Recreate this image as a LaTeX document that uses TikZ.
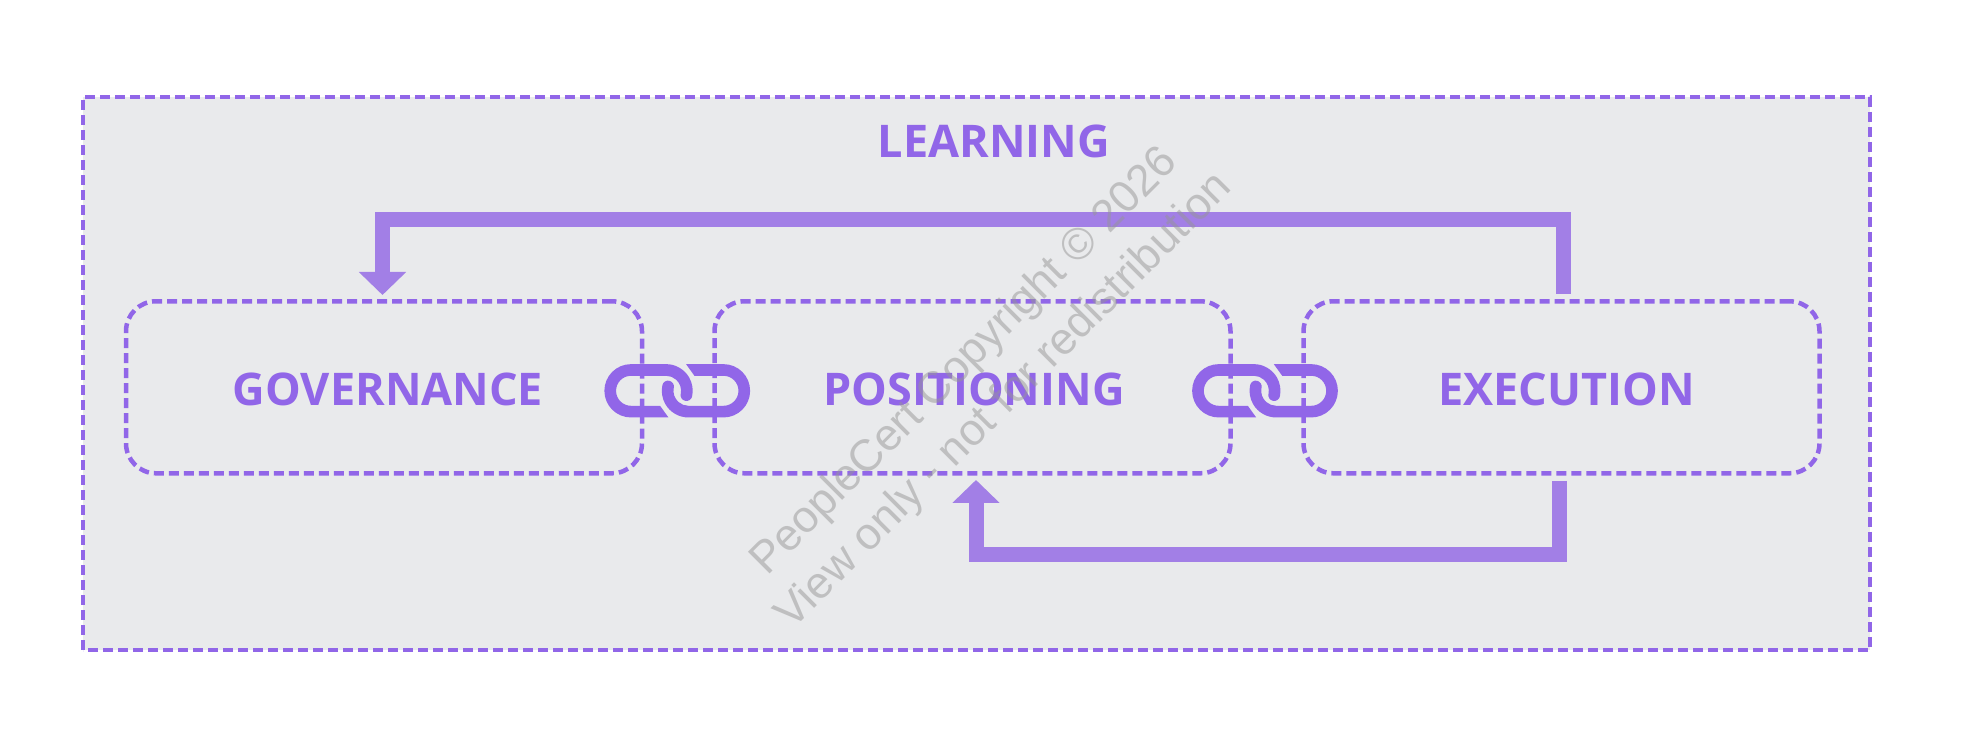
\documentclass[tikz,border=0pt]{standalone}
\usepackage{xcolor}
\usepackage{fontspec}
\setmainfont{Open Sans}
\newfontfamily\markfont{Liberation Sans}
\usetikzlibrary{arrows.meta,calc}
\definecolor{linkP}{RGB}{145,102,232}
\definecolor{flowP}{RGB}{162,127,230}
\definecolor{backG}{RGB}{233,234,236}
\definecolor{markG}{RGB}{150,150,150}

\begin{document}
\begin{tikzpicture}[
  x=1pt, y=1pt,
  outerbox/.style={draw=linkP, fill=backG, line width=4.5pt, dash pattern=on 10pt off 5pt},
  box/.style={draw=linkP, line width=4.5pt, dash pattern=on 10pt off 5pt, rounded corners=30pt,
    outer sep=0pt, minimum width=516pt, minimum height=172pt},
  boxtext/.style={font=\fontsize{45}{54}\selectfont\bfseries, text=linkP},
  flowend/.style={draw=flowP, line width=15pt, -{Triangle[width=46pt,length=23pt]}},
  stampnote/.style={font=\markfont\fontsize{44.6}{56}\selectfont, text=markG, opacity=0.5, rotate=45, align=center},
  chainlink/.pic={
    \foreach \ang in {0,180} {
      \fill[linkP, rotate=\ang] (-8.8,-26.67) -- (-46.2,-26.67)
        arc[start angle=270, end angle=90, radius=26.67] -- (-11.2,26.67)
        arc[start angle=90, end angle=-12, radius=26.67]
        arc[start angle=-12, end angle=-192, radius=5.83]
        arc[start angle=-12, end angle=90, radius=15] -- (-46.2,15)
        arc[start angle=90, end angle=270, radius=15] -- (-17.2,-15) -- cycle;
    }
  }
]
\useasboundingbox (0,0) rectangle (1971,747);
\fill[white] (0,0) rectangle (1971,747);

\draw[outerbox] (83,97) rectangle (1870,650);
\node[boxtext] (learning) at (994,606) {LEARNING};

% Boxes
\node[box] (gov) at (384,359.7) {};
\node[box] (pos) at (972.5,359.7) {};
\node[box] (exe) at (1561.5,359.7) {};
\node[boxtext, xshift=4pt, yshift=-2pt] (govtext) at (gov) {GOVERNANCE};
\node[boxtext, xshift=1.5pt, yshift=-2pt] (postext) at (pos) {POSITIONING};
\node[boxtext, xshift=5pt, yshift=-2pt] (exetext) at (exe) {EXECUTION};

% Flows
\draw[flowend, shorten >=6.3pt, shorten <=7.3pt] ([xshift=2pt]exe.north) -- ++(0,81.8) -| ([xshift=-1.5pt]gov.north);
\draw[flowend, shorten >=6.7pt, shorten <=7.7pt] ([xshift=-2pt]exe.south) -- ++(0,-81.2) -| ([xshift=3.5pt]pos.south);

% Chains
\pic at ($(gov.east)!0.5!(pos.west)+(-1,-3.5)$) {chainlink};
\pic at ($(pos.east)!0.5!(exe.west)+(-2,-3.5)$) {chainlink};

\node[stampnote] (stamp) at (985,365) {PeopleCert Copyright © 2026\\View only - not for redistribution};

\end{tikzpicture}
\end{document}
